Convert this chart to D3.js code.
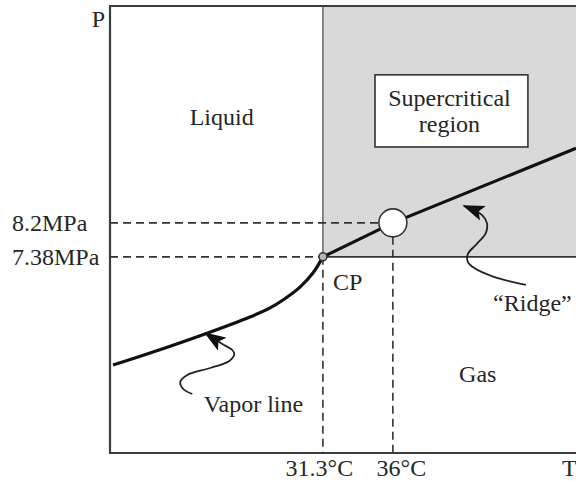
<!DOCTYPE html>
<html>
<head>
<meta charset="utf-8">
<script src="https://cdn.jsdelivr.net/npm/d3@7"></script>
<style>
  html, body { margin: 0; padding: 0; background: #ffffff; }
  svg { display: block; }
  text { font-family: "Liberation Serif", "Times New Roman", serif; fill: #262626; }
</style>
</head>
<body>
<script>
// Temperature (°C) and pressure (MPa) ticks marking the critical and operating points
const tempTicks = [31.3, 36];
const tempLabels = ["31.3°C", "36°C"];
const pressTicks = [8.2, 7.38];
const pressLabels = ["8.2MPa", "7.38MPa"];

// Vapor-pressure curve up to the critical point
const vaporT = [17.2, 19.69, 23.38, 26.4, 27.75, 28.62, 29.76, 30.63, 31.3];
const vaporP = [4.77, 5.06, 5.52, 5.93, 6.15, 6.34, 6.65, 6.99, 7.38];

// "Ridge" continuation beyond the critical point
const ridgeT = [31.3, 36, 48.3];
const ridgeP = [7.38, 8.2, 10.0];

// Critical point and operating point
const criticalPoint = [31.3, 7.38];
const operatingPoint = [36, 8.2];

// Axis extents
const tempDomain = [17.0, 48.3];
const pressDomain = [2.65, 13.43];

const W = 576, H = 481;
const plotLeft = 110, plotRight = 576, plotTop = 6, plotBottom = 453;

const svg = d3.select("body").append("svg")
  .attr("width", W).attr("height", H);

const x = d3.scaleLinear().domain(tempDomain).range([plotLeft, plotRight]);
const y = d3.scaleLinear().domain(pressDomain).range([plotBottom, plotTop]);

const fontSize = 24;

// Supercritical region (T > Tc, P > Pc)
svg.append("rect")
  .attr("x", x(criticalPoint[0]))
  .attr("y", y(pressDomain[1]))
  .attr("width", x(tempDomain[1]) - x(criticalPoint[0]))
  .attr("height", y(criticalPoint[1]) - y(pressDomain[1]))
  .attr("fill", "#d9d9d9");

// region borders
svg.append("line")
  .attr("x1", x(criticalPoint[0])).attr("x2", x(criticalPoint[0]))
  .attr("y1", y(pressDomain[1])).attr("y2", y(criticalPoint[1]))
  .attr("stroke", "#6e6e6e").attr("stroke-width", 1.6);
svg.append("line")
  .attr("x1", x(criticalPoint[0])).attr("x2", x(tempDomain[1]))
  .attr("y1", y(criticalPoint[1])).attr("y2", y(criticalPoint[1]))
  .attr("stroke", "#333").attr("stroke-width", 1.6);

// Frame: top, left and bottom
svg.append("path")
  .attr("d", `M${x(tempDomain[1])},${y(pressDomain[1])}H${x(tempDomain[0])}V${y(pressDomain[0])}H${x(tempDomain[1])}`)
  .attr("stroke", "#3d3d3d").attr("stroke-width", 2.2).attr("fill", "none");

// Dashed guide lines
const dash = "8,5";
const opR = 14;
const guides = svg.append("g").attr("stroke", "#333").attr("stroke-width", 1.6).attr("stroke-dasharray", dash).attr("fill", "none");
guides.append("line")
  .attr("x1", x(tempDomain[0])).attr("x2", x(criticalPoint[0]))
  .attr("y1", y(criticalPoint[1])).attr("y2", y(criticalPoint[1]));
guides.append("line")
  .attr("x1", x(criticalPoint[0])).attr("x2", x(criticalPoint[0]))
  .attr("y1", y(criticalPoint[1])).attr("y2", y(pressDomain[0]));
guides.append("line")
  .attr("x1", x(tempDomain[0])).attr("x2", x(operatingPoint[0]) - opR)
  .attr("y1", y(operatingPoint[1])).attr("y2", y(operatingPoint[1]));
guides.append("line")
  .attr("x1", x(operatingPoint[0])).attr("x2", x(operatingPoint[0]))
  .attr("y1", y(operatingPoint[1]) + opR).attr("y2", y(pressDomain[0]));

// Curves
svg.append("path")
  .datum(vaporT.map((t, i) => [t, vaporP[i]]))
  .attr("d", d3.line().x(d => x(d[0])).y(d => y(d[1])).curve(d3.curveCatmullRom.alpha(0.5)))
  .attr("fill", "none").attr("stroke", "#111").attr("stroke-width", 3.2);
svg.append("path")
  .datum(ridgeT.map((t, i) => [t, ridgeP[i]]))
  .attr("d", d3.line().x(d => x(d[0])).y(d => y(d[1])))
  .attr("fill", "none").attr("stroke", "#111").attr("stroke-width", 3.2);

// Critical point marker
svg.append("circle")
  .attr("cx", x(criticalPoint[0])).attr("cy", y(criticalPoint[1]))
  .attr("r", 4).attr("fill", "#b5b5b5").attr("stroke", "#333").attr("stroke-width", 1.5);

// Operating point marker
svg.append("circle")
  .attr("cx", x(operatingPoint[0])).attr("cy", y(operatingPoint[1]))
  .attr("r", opR).attr("fill", "#fff").attr("stroke", "#333").attr("stroke-width", 1.6);

// Axis tick labels
const yAxis = svg.append("g")
  .attr("transform", `translate(${plotLeft},0)`)
  .call(d3.axisLeft(y).tickValues(pressTicks).tickFormat((d, i) => pressLabels[i]).tickSize(0));
yAxis.select(".domain").remove();
yAxis.selectAll("text")
  .attr("x", 12 - plotLeft).attr("dy", "0.33em")
  .attr("text-anchor", "start")
  .style("font-family", "'Liberation Serif', serif")
  .style("font-size", fontSize + "px").attr("fill", "#262626");

const xAxis = svg.append("g")
  .attr("transform", `translate(0,${plotBottom})`)
  .call(d3.axisBottom(x).tickValues(tempTicks).tickFormat((d, i) => tempLabels[i]).tickSize(0));
xAxis.select(".domain").remove();
xAxis.selectAll("text")
  .attr("y", 0).attr("dy", "23px")
  .attr("dx", (d, i) => (i === 0 ? -4 : 8))
  .style("font-family", "'Liberation Serif', serif")
  .style("font-size", fontSize + "px").attr("fill", "#262626");

// Text helper
const label = (txt, px, py, anchor) => svg.append("text")
  .attr("x", px).attr("y", py).attr("text-anchor", anchor || "middle")
  .attr("font-size", fontSize).text(txt);

// Axis names
label("P", plotLeft - 5, 27, "end");
label("T", plotRight - 14, plotBottom + 23, "start");

// Region labels (placed in data units)
label("Liquid", x(24.5), y(10.56));
label("Gas", x(41.7), y(4.36));
label("Vapor line", x(26.64), y(3.64));
label("\u201CRidge\u201D", x(45.37), y(6.08));
label("CP", x(criticalPoint[0]) + 10, y(criticalPoint[1]) + 33, "start");

// Supercritical region boxed label
const box = { t0: 34.8, t1: 45.07, p0: 10.03, p1: 11.77 };
svg.append("rect")
  .attr("x", x(box.t0)).attr("y", y(box.p1))
  .attr("width", x(box.t1) - x(box.t0)).attr("height", y(box.p0) - y(box.p1))
  .attr("fill", "#fff").attr("stroke", "#333").attr("stroke-width", 1.6);
const bx = (x(box.t0) + x(box.t1)) / 2 - 2;
label("Supercritical", bx, y(box.p1) + 31);
label("region", bx, y(box.p1) + 57);

// Curly pointer arrows
const defs = svg.append("defs");
defs.append("marker")
  .attr("id", "head").attr("viewBox", "0 0 14 10")
  .attr("refX", 13).attr("refY", 5)
  .attr("markerUnits", "userSpaceOnUse")
  .attr("markerWidth", 22).attr("markerHeight", 15.7)
  .attr("orient", "auto")
  .append("path").attr("d", "M0,0L14,5L0,10L3,5Z").attr("fill", "#111");

const squiggle = d3.line().curve(d3.curveCatmullRom.alpha(0.5));

function pointer(tipX, tipY, offsets) {
  const pts = offsets.map(o => [tipX + o[0], tipY + o[1]]).reverse();
  pts.push([tipX, tipY]);
  svg.append("path")
    .attr("d", squiggle(pts))
    .attr("fill", "none").attr("stroke", "#222").attr("stroke-width", 1.8)
    .attr("marker-end", "url(#head)");
}

// vapor line pointer: tip sits on the curve
pointer(x(23.4), y(5.52) - 1,
  [[17, 11], [27, 17], [29, 21], [24, 28], [5, 35], [-18, 42], [-25, 49], [-22, 56], [-13, 61]]);

// ridge pointer: tip sits just below the ridge line
pointer(x(40.77), y(8.2) - 17,
  [[18, 9], [23, 17], [22, 27], [13, 38], [4, 48], [4, 56], [10, 62], [30, 71], [62, 79]]);
</script>
</body>
</html>
